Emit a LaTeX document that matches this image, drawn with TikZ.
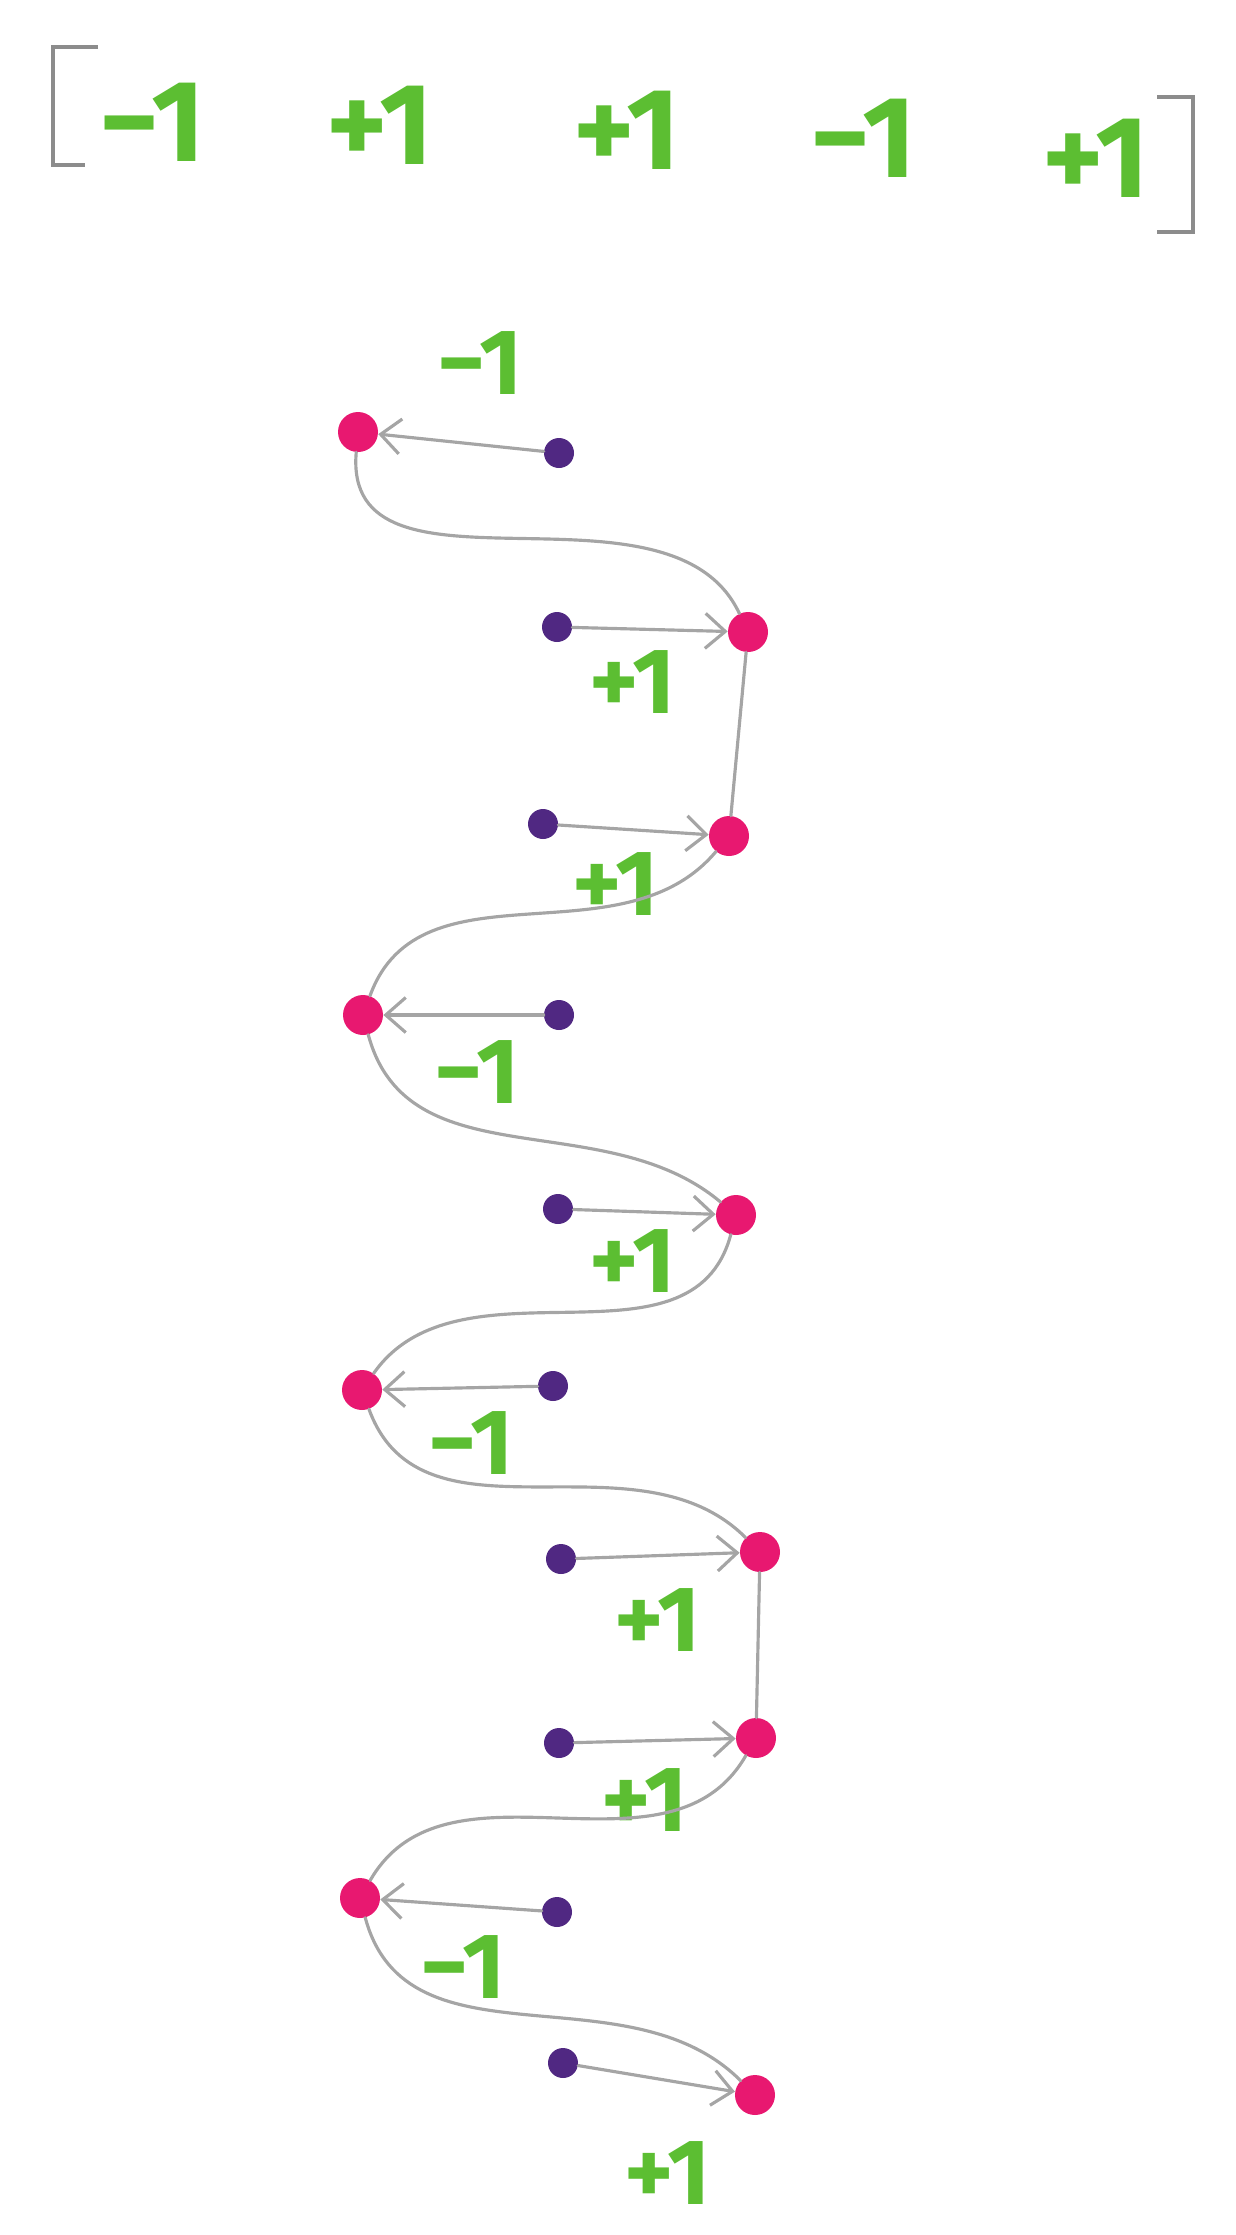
\documentclass[tikz,border=0pt]{standalone}
\usepackage{fontspec}
\setmainfont{Fira Sans}
\usepackage{xcolor}
\usepackage{tikz}
\usetikzlibrary{arrows.meta,positioning}
\definecolor{signgreen}{RGB}{92,190,50}
\definecolor{spinpink}{RGB}{232,24,112}
\definecolor{spinpurple}{RGB}{80,40,130}
\definecolor{linkgray}{RGB}{165,165,165}

\begin{document}
\begin{tikzpicture}[
  x=0.02cm, y=-0.02cm,
  sign/.style={text=signgreen, inner sep=0pt,
               font=\fontsize{53}{62}\selectfont\bfseries},
  vsign/.style={sign, font=\fontsize{66}{76}\selectfont\bfseries},
  site/.style={circle, fill=spinpink, minimum size=0.8cm, inner sep=0pt},
  spin/.style={circle, fill=spinpurple, minimum size=0.6cm, inner sep=0pt},
  bond/.style={draw=linkgray, line width=1.8pt, line cap=round},
  brk/.style={draw=linkgray!85!black, line width=1.8pt},
  arr/.style={-{Straight Barb[length=4mm, width=7mm]}, draw=linkgray,
              line width=1.8pt, line cap=round}
]
\useasboundingbox (0,0) rectangle (1235,2235);
%% ── Sign vector (top) ───────────────────────────────────────────────────
\draw[brk] (98,47) -- (53,47) -- (53,165) -- (85,165);
\draw[brk] (1157,97) -- (1193,97) -- (1193,232) -- (1157,232);
\node[vsign] (v1) at (152,122) {−1};
\node[vsign] (v2) at (380,125) {+1};
\node[vsign] (v3) at (627,130) {+1};
\node[vsign] (v4) at (863,138) {−1};
\node[vsign] (v5) at (1096,158) {+1};
%% ── Chain sites (pink) ──────────────────────────────────────────────────
\node[site] (p1)  at (358,432)  {};
\node[site] (p2)  at (748,632)  {};
\node[site] (p3)  at (729,836)  {};
\node[site] (p4)  at (363,1015) {};
\node[site] (p5)  at (736,1215) {};
\node[site] (p6)  at (362,1390) {};
\node[site] (p7)  at (760,1552) {};
\node[site] (p8)  at (756,1738) {};
\node[site] (p9)  at (360,1898) {};
\node[site] (p10) at (755,2095) {};
%% ── Spin origins (purple) ───────────────────────────────────────────────
\node[spin] (q1)  at (559,453)  {};
\node[spin] (q2)  at (557,627)  {};
\node[spin] (q3)  at (543,824)  {};
\node[spin] (q4)  at (559,1015) {};
\node[spin] (q5)  at (558,1209) {};
\node[spin] (q6)  at (553,1386) {};
\node[spin] (q7)  at (561,1559) {};
\node[spin] (q8)  at (559,1743) {};
\node[spin] (q9)  at (557,1912) {};
\node[spin] (q10) at (563,2063) {};
%% ── Step labels ─────────────────────────────────────────────────────────
\node[sign] (l1)  at (480,363)  {−1};
\node[sign] (l2)  at (633,682)  {+1};
\node[sign] (l3)  at (616,884)  {+1};
\node[sign] (l4)  at (477,1072) {−1};
\node[sign] (l5)  at (633,1261) {+1};
\node[sign] (l6)  at (471,1443) {−1};
\node[sign] (l7)  at (658,1620) {+1};
\node[sign] (l8)  at (645,1800) {+1};
\node[sign] (l9)  at (463,1967) {−1};
\node[sign] (l10) at (668,2173) {+1};
%% ── Wavy chain ──────────────────────────────────────────────────────────
\draw[bond] (p1) to[out=-95, in=115] (p2);
\draw[bond] (p2) -- (p3);
\draw[bond] (p3) to[out=-130, in=70] (p4);
\draw[bond] (p4) to[out=-75, in=140] (p5);
\draw[bond] (p5) to[out=-105, in=55] (p6);
\draw[bond] (p6) to[out=-70, in=135] (p7);
\draw[bond] (p7) -- (p8);
\draw[bond] (p8) to[out=-120, in=60] (p9);
\draw[bond] (p9) to[out=-75, in=135] (p10);
%% ── Spin arrows ─────────────────────────────────────────────────────────
\draw[arr] (q1)  -- (p1);
\draw[arr] (q2)  -- (p2);
\draw[arr] (q3)  -- (p3);
\draw[arr] (q4)  -- (p4);
\draw[arr] (q5)  -- (p5);
\draw[arr] (q6)  -- (p6);
\draw[arr] (q7)  -- (p7);
\draw[arr] (q8)  -- (p8);
\draw[arr] (q9)  -- (p9);
\draw[arr] (q10) -- (p10);
\end{tikzpicture}
\end{document}
